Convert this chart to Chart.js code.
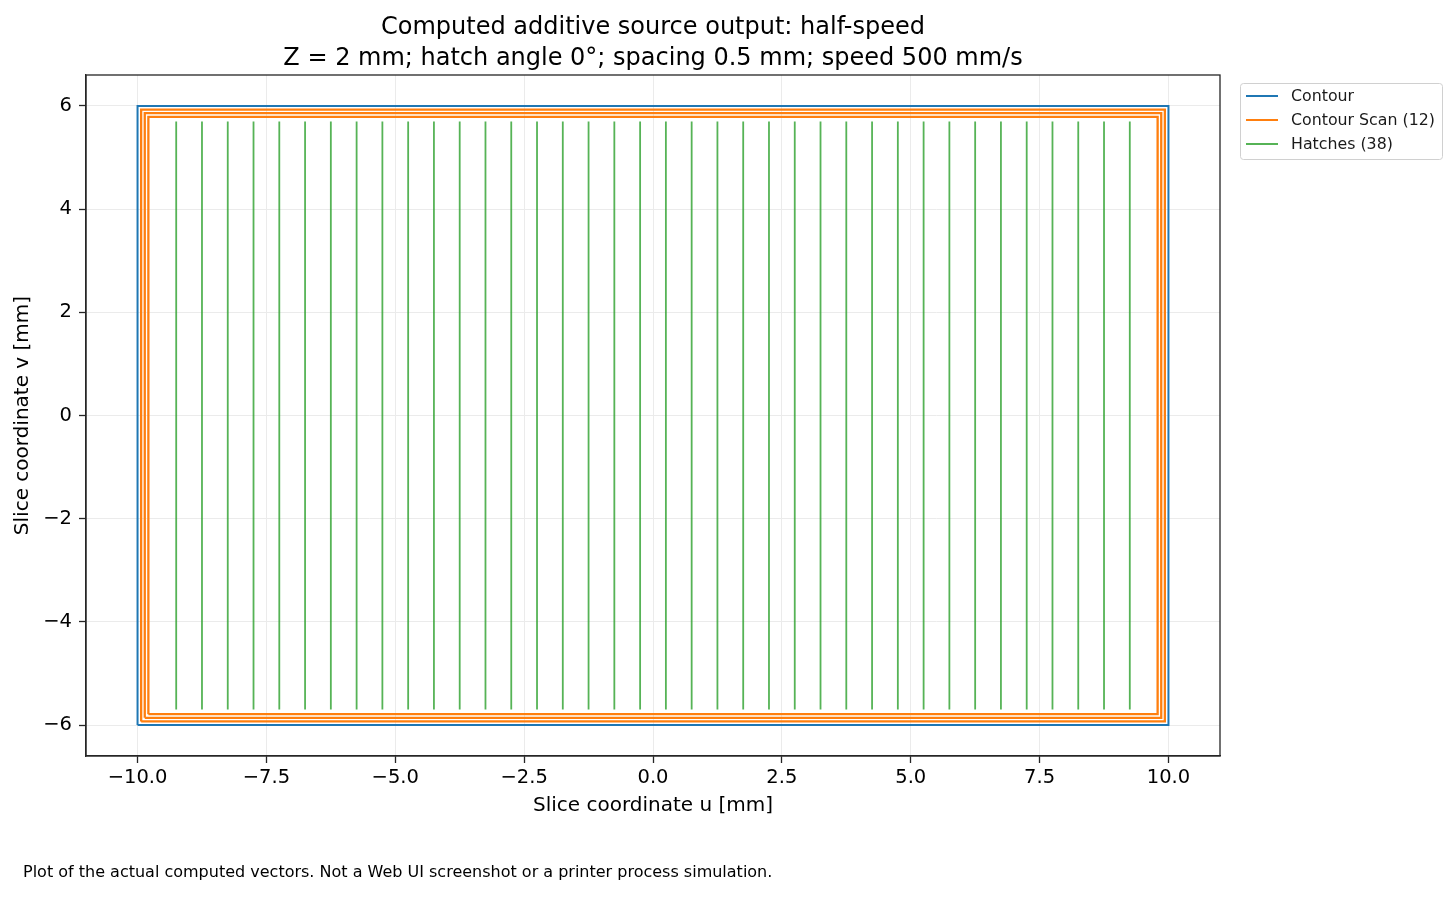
<!DOCTYPE html>
<html>
<head>
<meta charset="utf-8">
<script src="https://cdn.jsdelivr.net/npm/chart.js@4/dist/chart.umd.min.js"></script>
<style>
    html, body { margin: 0; padding: 0; background: #fff; }
    #wrap { width: 1456px; height: 897px; }
</style>
</head>
<body>
<div id="wrap"><canvas id="scanChart" width="1456" height="897"></canvas></div>
<script>
// Values (mm)
const contourU = [-10, 10, 10, -10, -10];
const contourV = [-6, -6, 6, 6, -6];

// three nested contour scan passes, 4 vectors each (12)
const scanHalfU = [9.93, 9.86, 9.79];
const scanHalfV = [5.93, 5.86, 5.79];

// hatch positions along u, 38 vectors
const hatchU = [-9.25, -8.75, -8.25, -7.75, -7.25, -6.75, -6.25, -5.75, -5.25, -4.75,
    -4.25, -3.75, -3.25, -2.75, -2.25, -1.75, -1.25, -0.75, -0.25, 0.25,
    0.75, 1.25, 1.75, 2.25, 2.75, 3.25, 3.75, 4.25, 4.75, 5.25,
    5.75, 6.25, 6.75, 7.25, 7.75, 8.25, 8.75, 9.25];
const hatchV = [-5.7, 5.7];

const xTicks = [-10, -7.5, -5, -2.5, 0, 2.5, 5, 7.5, 10];
const yTicks = [-6, -4, -2, 0, 2, 4, 6];

const titleLines = ['Computed additive source output: half-speed',
    'Z = 2 mm; hatch angle 0°; spacing 0.5 mm; speed 500 mm/s'];
const xLabel = 'Slice coordinate u [mm]';
const yLabel = 'Slice coordinate v [mm]';
const footnote = 'Plot of the actual computed vectors. Not a Web UI screenshot or a printer process simulation.';

const seriesNames = ['Contour', 'Contour Scan (12)', 'Hatches (38)'];
const seriesColors = ['#1f77b4', '#ff7f0e', 'rgba(44, 160, 44, 0.8)'];

const FONT = "'DejaVu Sans', sans-serif";
const AXIS_COLOR = '#262626';

// build point lists, null points break the line between vectors
const contourPts = contourU.map((u, i) => ({ x: u, y: contourV[i] }));

const scanPts = [];
scanHalfU.forEach((hu, i) => {
    const hv = scanHalfV[i];
    scanPts.push({ x: -hu, y: -hv }, { x: hu, y: -hv }, { x: hu, y: hv },
        { x: -hu, y: hv }, { x: -hu, y: -hv }, { x: -hu, y: null });
});

const hatchPts = [];
hatchU.forEach(u => {
    hatchPts.push({ x: u, y: hatchV[0] }, { x: u, y: hatchV[1] }, { x: u, y: null });
});

// matplotlib style minus sign
const minus = s => s.replace('-', '\u2212');

// frame, titles, legend, footnote
const decorations = {
    id: 'decorations',
    afterDraw(chart) {
        const ctx = chart.ctx;
        const a = chart.chartArea;
        const cx = (a.left + a.right) / 2;
        ctx.save();

        ctx.strokeStyle = AXIS_COLOR;
        ctx.lineWidth = 1.3;
        ctx.strokeRect(a.left, a.top, a.right - a.left, a.bottom - a.top);

        ctx.fillStyle = '#000';
        ctx.textAlign = 'center';
        ctx.textBaseline = 'alphabetic';
        ctx.font = '24px ' + FONT;
        ctx.fillText(titleLines[0], cx, 34);
        ctx.fillText(titleLines[1], cx, 64.5);

        ctx.textBaseline = 'middle';
        ctx.font = '20px ' + FONT;
        ctx.fillText(xLabel, cx, 806);
        ctx.save();
        ctx.translate(23, (a.top + a.bottom) / 2);
        ctx.rotate(-Math.PI / 2);
        ctx.fillText(yLabel, 0, 0);
        ctx.restore();

        ctx.textAlign = 'left';
        ctx.font = '16px ' + FONT;
        ctx.fillText(footnote, 23, 873);

        // legend box
        const lx = 1240, ly = 83, lw = 202, lh = 76;
        ctx.beginPath();
        ctx.roundRect(lx + 0.5, ly + 0.5, lw, lh, 3);
        ctx.fillStyle = 'rgba(255,255,255,0.8)';
        ctx.fill();
        ctx.strokeStyle = '#d0d0d0';
        ctx.lineWidth = 1;
        ctx.stroke();
        ctx.font = '15.8px ' + FONT;
        seriesNames.forEach((name, i) => {
            const y = 96 + i * 24;
            ctx.strokeStyle = seriesColors[i];
            ctx.lineWidth = 2;
            ctx.beginPath();
            ctx.moveTo(1246, y);
            ctx.lineTo(1278, y);
            ctx.stroke();
            ctx.fillStyle = '#1a1a1a';
            ctx.fillText(name, 1291, y + 1);
        });
        ctx.restore();
    }
};

const axisGrid = {
    color: '#ebebeb',
    tickColor: AXIS_COLOR,
    tickLength: 7,
    tickWidth: 1.3,
    lineWidth: 1
};

const chart = new Chart(document.getElementById('scanChart').getContext('2d'), {
    type: 'scatter',
    data: {
        datasets: [{
            label: seriesNames[0],
            data: contourPts,
            borderColor: seriesColors[0],
            borderWidth: 2
        }, {
            label: seriesNames[1],
            data: scanPts,
            borderColor: seriesColors[1],
            borderWidth: 2.3
        }, {
            label: seriesNames[2],
            data: hatchPts,
            borderColor: seriesColors[2],
            borderWidth: 1.8
        }].map(d => Object.assign(d, {
            showLine: true,
            spanGaps: false,
            pointRadius: 0,
            pointHoverRadius: 0,
            fill: false,
            tension: 0
        }))
    },
    options: {
        responsive: false,
        animation: false,
        devicePixelRatio: 1,
        layout: {
            padding: { top: 75, right: 236, bottom: 0, left: 0 }
        },
        plugins: {
            legend: { display: false },
            title: { display: false },
            tooltip: { enabled: false }
        },
        scales: {
            x: {
                type: 'linear',
                min: -11,
                max: 11,
                afterFit: scale => { scale.height = 141; },
                afterBuildTicks: scale => {
                    scale.ticks = xTicks.map(v => ({ value: v }));
                },
                grid: axisGrid,
                border: { display: true, color: AXIS_COLOR, width: 1.3 },
                ticks: {
                    color: '#000',
                    padding: 3,
                    maxRotation: 0,
                    font: { family: FONT, size: 19.5 },
                    callback: v => minus(v.toFixed(1))
                }
            },
            y: {
                type: 'linear',
                min: -6.6,
                max: 6.6,
                afterFit: scale => { scale.width = 86; },
                afterBuildTicks: scale => {
                    scale.ticks = yTicks.map(v => ({ value: v }));
                },
                grid: axisGrid,
                border: { display: true, color: AXIS_COLOR, width: 1.3 },
                ticks: {
                    color: '#000',
                    padding: 7,
                    font: { family: FONT, size: 19.5 },
                    callback: v => minus(String(v))
                }
            }
        }
    },
    plugins: [decorations]
});
</script>
</body>
</html>
